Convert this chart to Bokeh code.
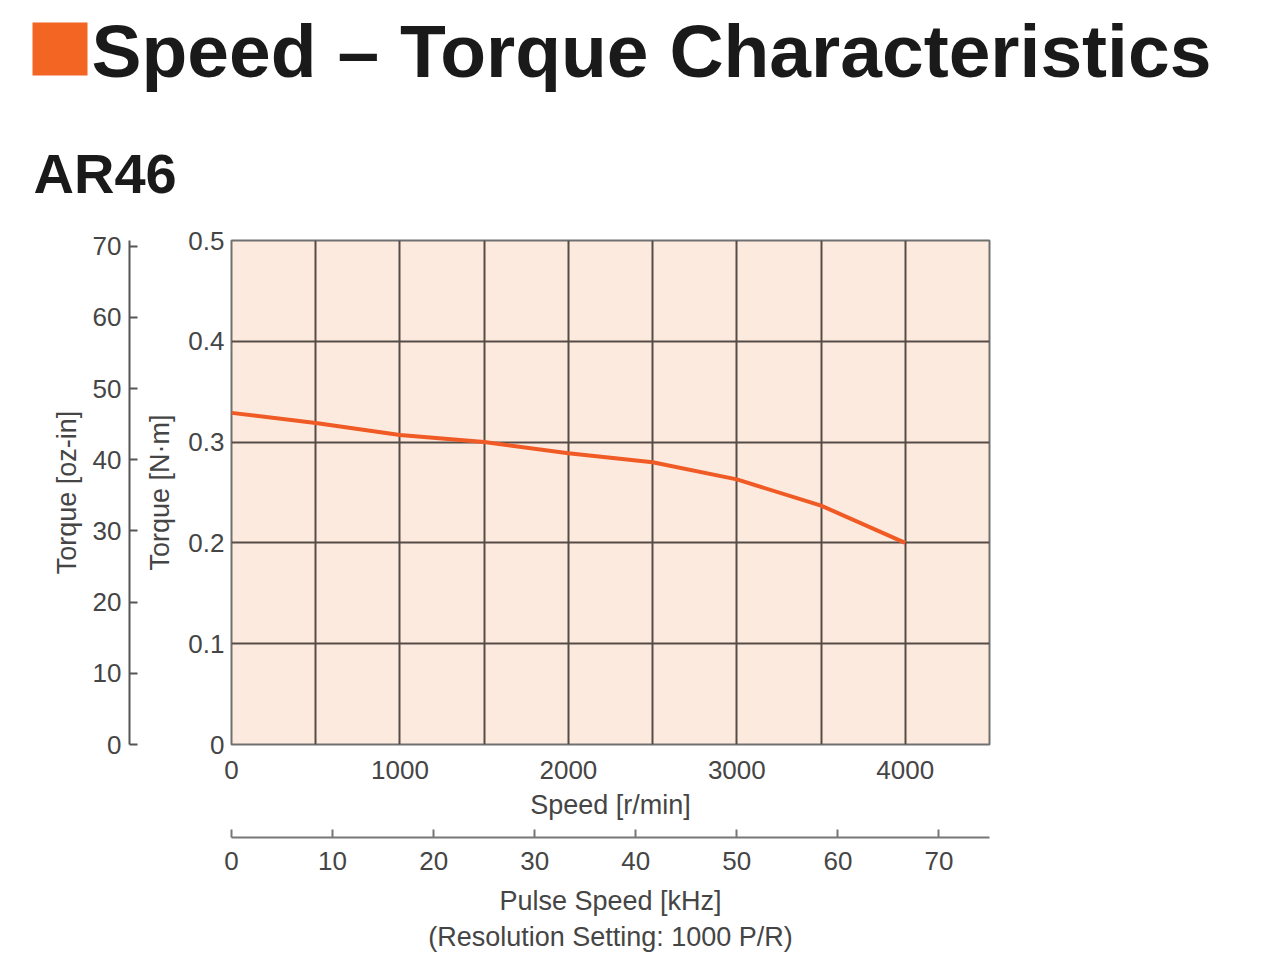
from bokeh.plotting import figure
from bokeh.models import Range1d, LinearAxis, FixedTicker, Label, BoxAnnotation
from bokeh.embed import file_html
from bokeh.resources import INLINE

# ---- data ----
speed_rpm = [0, 500, 1000, 1500, 2000, 2500, 3000, 3500, 4000]
torque_nm = [0.329, 0.319, 0.307, 0.300, 0.289, 0.280, 0.263, 0.237, 0.200]

speed_ticks = [0, 1000, 2000, 3000, 4000]
speed_grid = [500, 1000, 1500, 2000, 2500, 3000, 3500, 4000]
nm_ticks = [0, 0.1, 0.2, 0.3, 0.4, 0.5]
nm_labels = ["0", "0.1", "0.2", "0.3", "0.4", "0.5"]
nm_grid = [0.1, 0.2, 0.3, 0.4]
oz_ticks = [0, 10, 20, 30, 40, 50, 60, 70]
khz_ticks = [0, 10, 20, 30, 40, 50, 60, 70]

SPEED_MAX = 4500
NM_MAX = 0.5
OZIN_PER_NM = 1 / 0.00706155
RPM_PER_KHZ = 60  # resolution 1000 P/R

TITLE = "Speed – Torque Characteristics"
MODEL = "AR46"

TXT = "#454545"
FONT = "Liberation Sans"
W = 1264
HEAD_H = 220
CHART_H = 743

# ---------------- header (separate root, so its frame is not aligned) ----------------
head = figure(width=W, height=HEAD_H, output_backend="svg", toolbar_location=None,
              x_range=Range1d(0, W), y_range=Range1d(HEAD_H, 0),
              x_axis_type=None, y_axis_type=None, min_border=0,
              outline_line_color=None, background_fill_color="white",
              border_fill_color="white")
head.grid.visible = False
head.add_layout(BoxAnnotation(left=32, right=87, top=22, bottom=75,
                              fill_color="#f26522", fill_alpha=1.0, line_color=None))
head.add_layout(Label(x=91, y=50, text=TITLE, text_font=FONT,
                      text_font_style="bold", text_font_size="75px",
                      text_color="#1a1a1a", text_baseline="alphabetic"))
head.add_layout(Label(x=33, y=173, text=MODEL, text_font=FONT,
                      text_font_style="bold", text_font_size="56px",
                      text_color="#1a1a1a", text_baseline="alphabetic"))

# ---------------- chart ----------------
p = figure(width=W, height=CHART_H, output_backend="svg", toolbar_location=None,
           x_range=Range1d(0, SPEED_MAX), y_range=Range1d(0, NM_MAX),
           min_border_left=231, min_border_right=275,
           min_border_top=20, min_border_bottom=219,
           background_fill_color="#fdeadf", border_fill_color="white",
           outline_line_color="#707070", outline_line_width=2)

p.extra_y_ranges = {"oz": Range1d(0, NM_MAX * OZIN_PER_NM)}
p.extra_x_ranges = {"khz": Range1d(0, SPEED_MAX / RPM_PER_KHZ)}


def style_axis(ax, label_size="26px"):
    ax.major_label_text_font = FONT
    ax.major_label_text_font_size = label_size
    ax.major_label_text_color = TXT
    ax.axis_label_text_font = FONT
    ax.axis_label_text_font_size = "27px"
    ax.axis_label_text_font_style = "normal"
    ax.axis_label_text_color = TXT
    ax.minor_tick_line_color = None


def spacer(size, **kw):
    return LinearAxis(ticker=FixedTicker(ticks=[0]), axis_line_color=None,
                      major_tick_in=0, major_tick_out=size, major_tick_line_color=None,
                      minor_tick_line_color=None, major_label_standoff=0,
                      major_label_overrides={0: ""}, major_label_text_font_size="1px",
                      major_label_text_color=None, **kw)


# N·m axis (inner left)
ya = p.yaxis[0]
ya.ticker = FixedTicker(ticks=nm_ticks)
ya.major_label_overrides = {t: l for t, l in zip(nm_ticks, nm_labels)}
ya.axis_label = "Torque [N·m]"
ya.major_tick_in = 0
ya.major_tick_out = 0
ya.axis_line_color = None
ya.major_label_standoff = 7
ya.axis_label_standoff = 10
style_axis(ya)

p.add_layout(spacer(13), "left")

# oz-in axis (outer left)
oz = LinearAxis(y_range_name="oz", ticker=FixedTicker(ticks=oz_ticks),
                axis_label="Torque [oz-in]")
oz.major_tick_in = 8
oz.major_tick_out = 0
oz.axis_line_color = "#555555"
oz.axis_line_width = 2
oz.major_tick_line_color = "#555555"
oz.major_tick_line_width = 2
oz.major_label_standoff = 8
oz.axis_label_standoff = 8
style_axis(oz)
p.add_layout(oz, "left")

# speed axis (inner bottom)
xa = p.xaxis[0]
xa.ticker = FixedTicker(ticks=speed_ticks)
xa.axis_label = "Speed [r/min]"
xa.major_tick_in = 0
xa.major_tick_out = 0
xa.axis_line_color = None
xa.major_label_standoff = 16
xa.axis_label_standoff = 8
style_axis(xa)

p.add_layout(spacer(15), "below")

# pulse speed axis (outer bottom)
kz = LinearAxis(x_range_name="khz", ticker=FixedTicker(ticks=khz_ticks),
                axis_label="Pulse Speed [kHz]\n(Resolution Setting: 1000 P/R)")
kz.major_tick_in = 8
kz.major_tick_out = 0
kz.axis_line_color = "#777777"
kz.axis_line_width = 2
kz.major_tick_line_color = "#777777"
kz.major_tick_line_width = 2
kz.major_label_standoff = 14
kz.axis_label_standoff = 13
style_axis(kz)
p.add_layout(kz, "below")

# grid
p.xgrid.ticker = FixedTicker(ticks=speed_grid)
p.ygrid.ticker = FixedTicker(ticks=nm_grid)
for g in (p.xgrid[0], p.ygrid[0]):
    g.grid_line_color = "#564c47"
    g.grid_line_width = 2

# curve
p.line(speed_rpm, torque_nm, line_width=4, line_color="#f05a24")

open("out.html", "w").write(file_html([head, p], INLINE))
